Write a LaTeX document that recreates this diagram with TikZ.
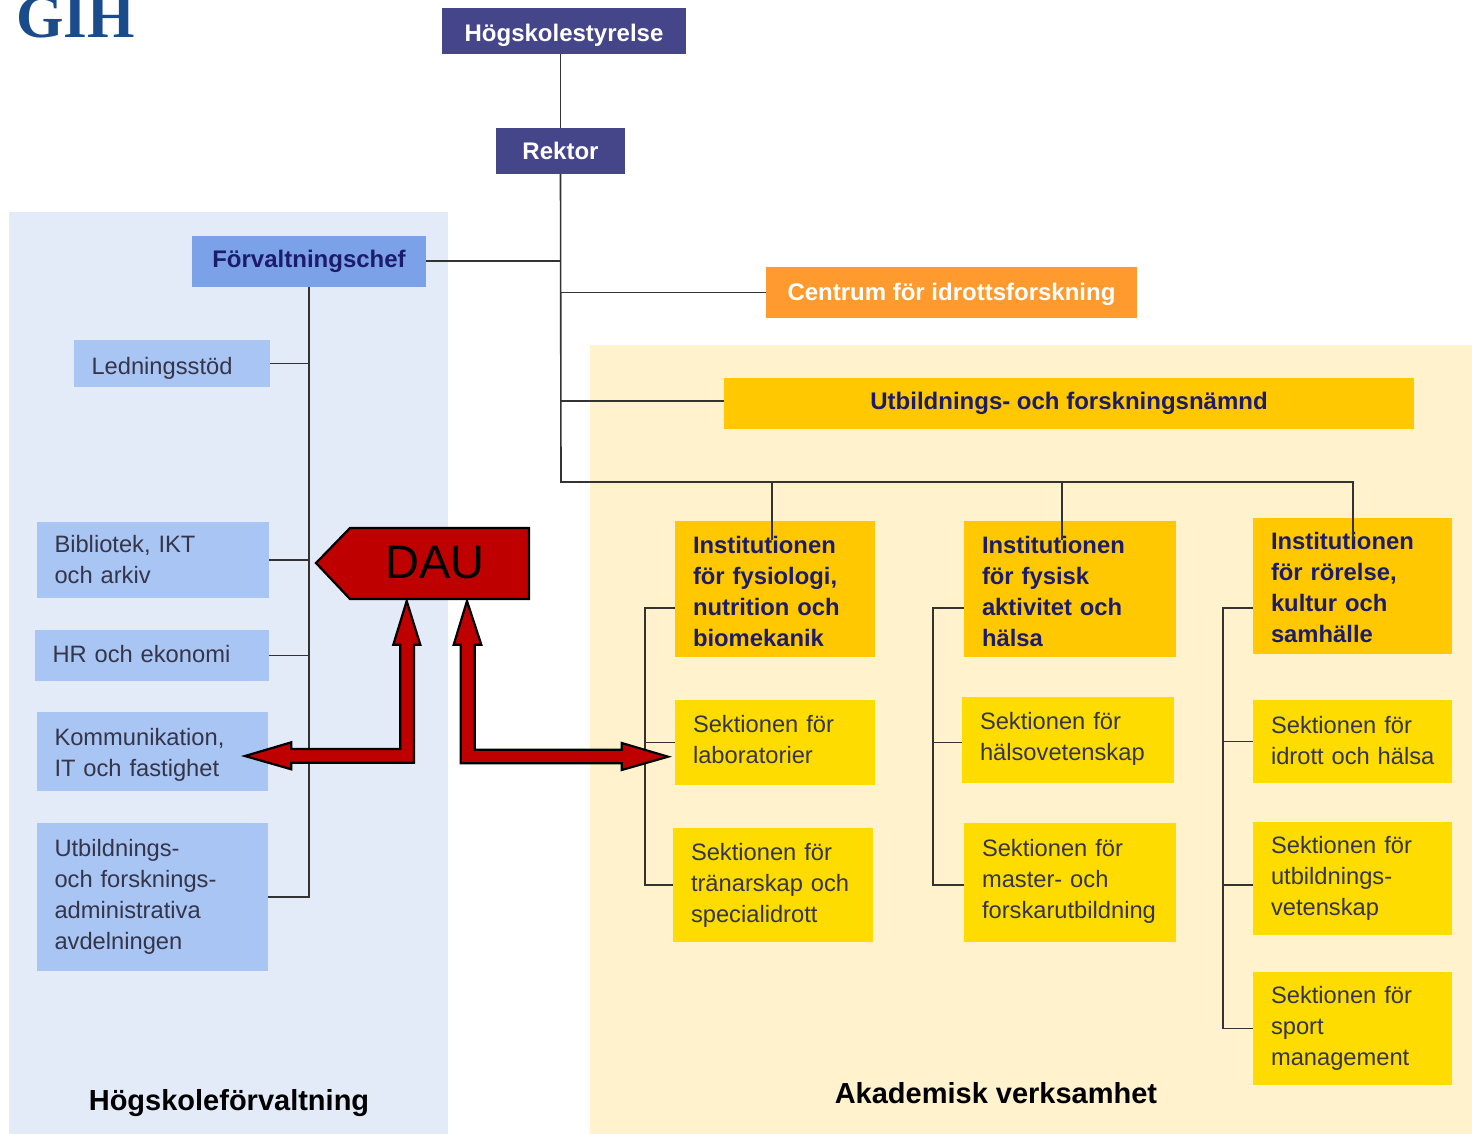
\documentclass[tikz,border=0pt]{standalone}
\usepackage{fontspec}
\setmainfont{Liberation Sans}
\newfontfamily\logofont{Liberation Serif}
\usepackage{tikz}
\usetikzlibrary{calc}
\definecolor{ledning}{HTML}{45458A}
\definecolor{chefblue}{HTML}{7BA2E8}
\definecolor{stabblue}{HTML}{A9C5F3}
\definecolor{bgblue}{HTML}{E3EAF8}
\definecolor{bgyellow}{HTML}{FFF2CC}
\definecolor{instgold}{HTML}{FFC800}
\definecolor{sekyellow}{HTML}{FFDC00}
\definecolor{centrumorange}{HTML}{FF9A2E}
\definecolor{darkred}{HTML}{BE0000}
\definecolor{navytext}{HTML}{1C1C6B}
\definecolor{greytext}{HTML}{35354A}
\definecolor{logoblue}{HTML}{1A4C8B}
\tikzstyle{top} = [rectangle, minimum height=46pt, text centered, fill=ledning, text=white, font=\fontsize{24}{30}\selectfont\bfseries]
\tikzstyle{wide} = [rectangle, minimum height=51pt, text centered, font=\fontsize{24}{30}\selectfont\bfseries]
\tikzstyle{stab} = [rectangle, inner xsep=17.5pt, inner ysep=0pt, align=left, fill=stabblue, text=greytext, font=\fontsize{23.7}{31}\selectfont]
\tikzstyle{inst} = [rectangle, inner xsep=18pt, inner ysep=0pt, align=left, fill=instgold, text=navytext, font=\fontsize{23.8}{31}\selectfont\bfseries]
\tikzstyle{sek} = [rectangle, inner xsep=18pt, inner ysep=0pt, align=left, fill=sekyellow, text=greytext, font=\fontsize{23.7}{31}\selectfont]
\tikzstyle{title} = [font=\fontsize{29}{35}\selectfont\bfseries, text=black]
\tikzstyle{line} = [line width=1.6pt, draw=black!80]
\tikzstyle{fat} = [line width=2.2pt, draw=black, fill=darkred, line join=miter]

\begin{document}
\begin{tikzpicture}[x=1pt,y=-1pt]
\useasboundingbox (0,0) rectangle (1472,1134);
\clip (0,0) rectangle (1472,1134);

\fill[bgblue] (9,212) rectangle (448,1134);
\fill[bgyellow] (590,345) rectangle (1472,1134);

\node (logo) [anchor=base west, inner sep=0pt, text=logoblue, font=\fontsize{61}{61}\selectfont\logofont\bfseries] at (16,38) {GIH};

\node (styrelse) [top, minimum width=244pt, text height=26pt, text depth=5pt] at (564,31) {Högskolestyrelse};
\node (rektor) [top, minimum width=129pt] at (560.5,151) {Rektor};
\node (chef) [wide, minimum width=234pt, fill=chefblue, text=navytext] at (309,261) {Förvaltningschef};
\node (centrum) [wide, minimum width=371pt, fill=centrumorange, text=white, text height=20pt, text depth=5pt] at (951.5,292.5) {Centrum för idrottsforskning};
\node (namnd) [wide, minimum width=690pt, fill=instgold, text=navytext] at (1069,403.5) {Utbildnings- och forskningsnämnd};

\node (ledstod) [stab, text width=161pt, minimum height=47pt, text height=26pt, text depth=5pt] at (172,363.5) {Ledningsstöd};
\node (biblio) [stab, text width=197pt, minimum height=76pt, below of=ledstod, node distance=196.5pt, xshift=-19pt] {Bibliotek, IKT\\och arkiv};
\node (hrek) [stab, text width=199pt, minimum height=51pt, below of=biblio, node distance=95.5pt, xshift=-1pt, text depth=4pt] {HR och ekonomi};
\node (komm) [stab, text width=196pt, minimum height=79pt, below of=hrek, node distance=96pt, xshift=0.5pt, text height=24pt] {Kommunikation,\\IT och fastighet};
\node (utbadm) [stab, text width=196pt, minimum height=148pt, below of=komm, node distance=145.5pt] {Utbildnings-\\och forsknings-\\administrativa\\avdelningen};

\node (inst1) [inst, text width=164pt, minimum height=136pt, text height=22pt] at (775,589) {Institutionen\\för fysiologi,\\nutrition och\\biomekanik};
\node (sek11) [sek, text width=164pt, minimum height=85pt, below of=inst1, node distance=153.5pt, text depth=37pt] {Sektionen för\\laboratorier};
\node (sek12) [sek, text width=164pt, minimum height=114pt, below of=sek11, node distance=142.5pt, xshift=-2pt] {Sektionen för\\tränarskap och\\specialidrott};

\node (inst2) [inst, text width=176pt, minimum height=136pt, text height=22pt] at (1070,589) {Institutionen\\för fysisk\\aktivitet och\\hälsa};
\node (sek21) [sek, text width=176pt, minimum height=86pt, below of=inst2, node distance=151pt, xshift=-2pt, text depth=38pt] {Sektionen för\\hälsovetenskap};
\node (sek22) [sek, text width=176pt, minimum height=119pt, below of=sek21, node distance=142.5pt, xshift=2pt, text depth=69pt] {Sektionen för\\master- och\\forskarutbildning};

\node (inst3) [inst, text width=163pt, minimum height=136pt, text height=20pt] at (1352.5,586) {Institutionen\\för rörelse,\\kultur och\\samhälle};
\node (sek31) [sek, text width=163pt, minimum height=83pt, below of=inst3, node distance=155.5pt, text depth=33pt] {Sektionen för\\\mbox{idrott och hälsa}};
\node (sek32) [sek, text width=163pt, minimum height=113pt, below of=sek31, node distance=137pt] {Sektionen för\\utbildnings-\\vetenskap};
\node (sek33) [sek, text width=163pt, minimum height=113pt, below of=sek32, node distance=150pt] {Sektionen för\\sport\\management};

\node (forvaltning) [title, text height=28pt, text depth=6pt] at (229,1099) {Högskoleförvaltning};
\node (akademisk) [title] at (996,1093) {Akademisk verksamhet};

\coordinate (trunk) at (561,482);
\coordinate (drop1) at (772,540);
\coordinate (drop2) at (1062,540);
\coordinate (drop3) at (1353,540);
\coordinate (brack1) at (645,608);
\coordinate (brack2) at (933,608);
\coordinate (brack3) at (1223,608);

% ledning
\draw [line] (styrelse.south -| rektor.north) -- (rektor.north);
\draw [line] (rektor.south) -- (trunk) -- (trunk -| drop3) -- (drop3);
\draw [line] (trunk -| drop1) -- (drop1);
\draw [line] (trunk -| drop2) -- (drop2);
\draw [line] (chef.east) -- (chef.east -| trunk);
\draw [line] (centrum.west) -- (centrum.west -| trunk);
\draw [line] (namnd.west |- 0,401) -- (trunk |- 0,401);

% forvaltning
\draw [line] (chef.south) |- (utbadm.east);
\draw [line] (ledstod.east) -- (ledstod.east -| chef.south);
\draw [line] (biblio.east) -- (biblio.east -| chef.south);
\draw [line] (hrek.east) -- (hrek.east -| chef.south);

% sektioner
\draw [line] (inst1.west |- brack1) -- (brack1) |- (sek12.west);
\draw [line] (sek11.west) -- (sek11.west -| brack1);
\draw [line] (inst2.west |- brack2) -- (brack2) |- ($(sek22.west)+(0,2.5)$);
\draw [line] (sek21.west |- sek11.west) -- (sek11.west -| brack2);
\draw [line] (inst3.west |- brack3) -- (brack3) |- (sek33.west);
\draw [line] (sek31.west) -- (sek31.west -| brack3);
\draw [line] ($(sek32.west)+(0,6.5)$) -- ($(sek32.west -| brack3)+(0,6.5)$);

% DAU
\draw [fat] (316,563) -- (350,528) -- (529,528) -- (529,599) -- (350,599) -- cycle;
\node (dau) [font=\fontsize{47}{50}\selectfont, text=black] at (435,563) {DAU};

\draw [fat] (406.7,601) -- (420.3,644.7) -- (414,644.7) -- (414,762.7) -- (291.3,762.7) -- (291.3,769.3) -- (245,756) -- (291.3,742.3) -- (291.3,749) -- (400.3,749) -- (400.3,644.7) -- (393.3,644.7) -- cycle;
\draw [fat] (467,601) -- (481.3,644.7) -- (474.7,644.7) -- (474.7,749.7) -- (621.7,749.7) -- (621.7,743) -- (668,756.7) -- (621.7,770) -- (621.7,763.3) -- (460.7,763.3) -- (460.7,644.7) -- (453.7,644.7) -- cycle;

\end{tikzpicture}
\end{document}
